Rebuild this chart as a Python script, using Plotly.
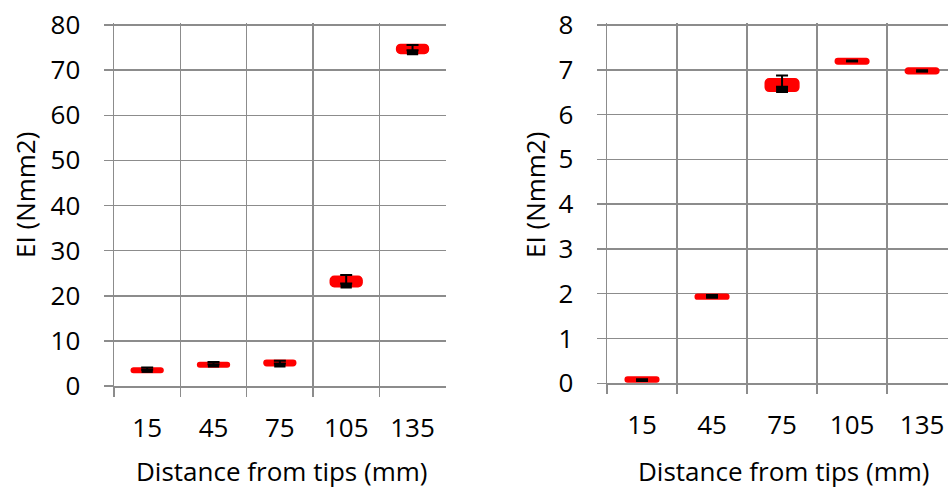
import plotly.graph_objects as go

categories = ["15", "45", "75", "105", "135"]

# Left panel (EI, Nmm2)
left_min = [2.9, 4.1, 4.1, 21.6, 73.3]
left_q1 = [3.0, 4.2, 4.5, 22.0, 73.7]
left_med = [3.6, 4.8, 5.0, 22.7, 74.4]
left_q3 = [4.0, 5.2, 5.7, 24.3, 75.7]
left_max = [4.1, 5.3, 5.6, 24.6, 75.6]

# Right panel (EI, Nmm2)
right_min = [0.03, 1.89, 6.48, 7.17, 6.94]
right_q1 = [0.03, 1.88, 6.52, 7.13, 6.91]
right_med = [0.08, 1.93, 6.62, 7.19, 6.97]
right_q3 = [0.14, 1.99, 6.80, 7.25, 7.04]
right_max = [0.09, 1.97, 6.87, 7.21, 6.99]

left_ticks = [0, 10, 20, 30, 40, 50, 60, 70, 80]
right_ticks = [0, 1, 2, 3, 4, 5, 6, 7, 8]

W, H = 948, 489
FONT = "Open Sans"
GRID = "#8c8c8c"
RED = "#ff0000"


def px(x):
    return x / W


def py(y):
    return 1 - y / H


fig = go.Figure()


def add_panel(xa, ya, mins, q1, med, q3, mx):
    fig.add_trace(go.Bar(
        x=categories, y=[b - a for a, b in zip(q1, q3)], base=q1,
        width=0.48, marker=dict(color=RED, line=dict(color=RED, width=1.5), cornerradius=4),
        xaxis=xa, yaxis=ya, showlegend=False, hoverinfo="skip"))
    fig.add_trace(go.Bar(
        x=categories, y=[b - a for a, b in zip(mins, med)], base=mins,
        width=0.17, marker=dict(color="black", line=dict(width=0)),
        xaxis=xa, yaxis=ya, showlegend=False, hoverinfo="skip"))
    fig.add_trace(go.Scatter(
        x=categories, y=med, mode="markers",
        marker=dict(size=1, color="black", opacity=0),
        error_y=dict(type="data", symmetric=False,
                     array=[max(b - a, 0) for a, b in zip(med, mx)],
                     arrayminus=[0] * len(med),
                     color="black", thickness=2, width=6),
        xaxis=xa, yaxis=ya, showlegend=False, hoverinfo="skip"))


add_panel("x", "y", left_min, left_q1, left_med, left_q3, left_max)
add_panel("x2", "y2", right_min, right_q1, right_med, right_q3, right_max)

axis_font = dict(family=FONT, size=26, color="#000000")
title_font = dict(family=FONT, size=26, color="#000000")

common_x = dict(type="category", tickson="boundaries", showgrid=True, gridcolor=GRID,
                gridwidth=1.5, ticks="outside", ticklen=9, tickcolor=GRID, tickwidth=1.5,
                showline=True, linecolor=GRID, linewidth=1.5, tickfont=axis_font,
                ticklabelstandoff=18, fixedrange=True, automargin=False)
common_y = dict(showgrid=True, gridcolor=GRID, gridwidth=1.5, ticks="outside", ticklen=9,
                tickcolor=GRID, tickwidth=1.5, showline=True, linecolor=GRID, linewidth=1.5,
                zeroline=False, tickfont=axis_font, ticklabelstandoff=18, fixedrange=True,
                automargin=False, ticklabeloverflow="allow")

fig.update_layout(
    width=W, height=H, autosize=False,
    margin=dict(l=0, r=0, t=0, b=0, autoexpand=False),
    paper_bgcolor="white", plot_bgcolor="white",
    barmode="overlay",
    font=dict(family=FONT, color="#000000"),
    xaxis=dict(common_x, domain=[px(114), px(445.7)], range=[-0.5, 4.5], anchor="y"),
    yaxis=dict(common_y, domain=[py(386), py(23)], range=[0, 80.45],
               tickvals=left_ticks, anchor="x"),
    xaxis2=dict(common_x, domain=[px(607), 1.0], range=[-0.5, 4.37], anchor="y2"),
    yaxis2=dict(common_y, domain=[py(383.3), py(23)], range=[0, 8.045],
                tickvals=right_ticks, anchor="x2"),
    annotations=[
        dict(text="Distance from tips (mm)", x=px(281), y=py(471), xref="paper", yref="paper",
             xanchor="center", yanchor="middle", showarrow=False, font=title_font),
        dict(text="Distance from tips (mm)", x=px(783), y=py(471), xref="paper", yref="paper",
             xanchor="center", yanchor="middle", showarrow=False, font=title_font),
        dict(text="EI (Nmm2)", x=px(25), y=py(195), xref="paper", yref="paper",
             xanchor="center", yanchor="middle", showarrow=False, textangle=-90, font=title_font),
        dict(text="EI (Nmm2)", x=px(535), y=py(195), xref="paper", yref="paper",
             xanchor="center", yanchor="middle", showarrow=False, textangle=-90, font=title_font),
    ],
)

fig.write_html(
    "out.html",
    config={"displayModeBar": False, "staticPlot": True},
    post_script="document.body.style.margin='0';document.body.style.overflow='hidden';",
)
